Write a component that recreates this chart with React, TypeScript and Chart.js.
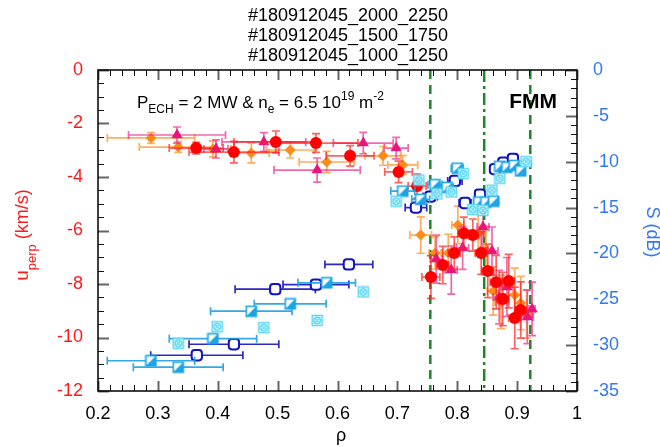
import React, { useEffect, useRef } from 'react';
import { Chart, registerables } from 'chart.js';

Chart.register(...registerables);

const FONT = '"Liberation Sans", Arial, Helvetica, sans-serif';

const titleLines = ['#180912045_2000_2250', '#180912045_1500_1750', '#180912045_1000_1250'];

// Red circles (u_perp, km/s)
const redRho = [0.364, 0.427, 0.497, 0.564, 0.621, 0.702, 0.733, 0.756, 0.776, 0.795, 0.811, 0.826, 0.840, 0.851, 0.865, 0.876, 0.886, 0.896, 0.906];
const redU = [-2.92, -3.07, -2.69, -2.73, -3.21, -3.81, -4.34, -7.74, -7.29, -6.84, -6.10, -6.17, -6.84, -7.51, -7.93, -8.56, -7.89, -9.27, -8.97];
const redRhoErr = [0.045, 0.075, 0.07, 0.07, 0.04, 0.023, 0.015, 0.015, 0.01, 0.01, 0.01, 0.01, 0.01, 0.01, 0.01, 0.01, 0.01, 0.01, 0.01];
const redUErr = [0.22, 0.4, 0.41, 0.35, 0.38, 0.4, 0.45, 0.8, 0.7, 0.6, 0.6, 0.6, 0.8, 1.0, 1.0, 1.0, 1.0, 1.15, 1.05];

// Orange diamonds (u_perp, km/s)
const orangeRho = [0.2885, 0.334, 0.392, 0.456, 0.521, 0.582, 0.676, 0.709, 0.739, 0.763, 0.785, 0.801, 0.835, 0.848, 0.860, 0.873, 0.896, 0.906, 0.916];
const orangeU = [-2.54, -2.88, -2.95, -3.10, -2.99, -3.44, -3.21, -3.55, -6.17, -6.84, -6.84, -5.79, -6.10, -6.73, -8.26, -8.67, -8.41, -8.71, -9.12];
const orangeRhoErr = [0.073, 0.065, 0.03, 0.03, 0.04, 0.046, 0.03, 0.025, 0.018, 0.01, 0.01, 0.01, 0.01, 0.01, 0.01, 0.01, 0.01, 0.01, 0.01];
const orangeUErr = [0.2, 0.2, 0.3, 0.37, 0.3, 0.4, 0.35, 0.35, 0.68, 0.6, 0.7, 0.7, 0.8, 0.9, 0.9, 1.0, 1.0, 1.0, 0.9];

// Magenta triangles (u_perp, km/s)
const pinkRho = [0.332, 0.397, 0.477, 0.566, 0.643, 0.698, 0.765, 0.790, 0.809, 0.843, 0.858, 0.870, 0.883, 0.917, 0.925];
const pinkU = [-2.43, -2.95, -2.69, -3.74, -2.73, -2.92, -7.07, -7.48, -6.65, -5.87, -6.77, -8.49, -8.11, -9.23, -8.93];
const pinkRhoErr = [0.081, 0.02, 0.07, 0.072, 0.05, 0.02, 0.01, 0.01, 0.01, 0.01, 0.01, 0.01, 0.01, 0.01, 0.005];
const pinkUErr = [0.3, 0.34, 0.35, 0.45, 0.4, 0.4, 0.9, 0.9, 0.8, 0.8, 0.9, 1.0, 1.1, 1.0, 1.0];

// Dark blue open circles (S, dB)
const blueRho = [0.365, 0.427, 0.496, 0.564, 0.619, 0.731, 0.755, 0.796, 0.813, 0.838, 0.863, 0.877, 0.893];
const blueS = [-31.1, -29.9, -23.9, -23.4, -21.2, -15.0, -13.8, -12.1, -14.5, -13.6, -10.8, -10.1, -9.7];
const blueRhoErr = [0.077, 0.075, 0.067, 0.055, 0.04, 0.018, 0.012, 0.012, 0.01, 0.008, 0.008, 0.008, 0.008];

// Cyan half-filled squares (S, dB)
const cyanRho = [0.2885, 0.334, 0.392, 0.456, 0.521, 0.582, 0.709, 0.739, 0.763, 0.783, 0.800, 0.836, 0.848, 0.861, 0.871, 0.883, 0.895, 0.906];
const cyanS = [-31.7, -32.4, -29.3, -26.3, -25.5, -23.2, -13.2, -14.1, -12.5, -12.8, -10.7, -14.4, -14.4, -14.3, -10.5, -10.6, -10.4, -11.0];
const cyanRhoErr = [0.073, 0.075, 0.073, 0.068, 0.06, 0.048, 0.02, 0.015, 0.012, 0.01, 0.01, 0.008, 0.008, 0.008, 0.006, 0.006, 0.006, 0.006];

// Light cyan crossed squares (S, dB)
const lightRho = [0.334, 0.399, 0.477, 0.566, 0.643, 0.698, 0.736, 0.766, 0.790, 0.810, 0.826, 0.843, 0.858, 0.871, 0.915];
const lightS = [-29.8, -28.0, -28.1, -27.3, -24.2, -14.3, -12.0, -13.5, -13.3, -11.3, -15.2, -15.3, -13.1, -11.8, -10.0];

const fmmRho = [0.755, 0.845, 0.922];
const fmmDash = [[9, 6], [12, 4, 3, 4], [9, 6]];

function pts(xs: number[], ys: number[]) {
  return xs.map((x, i) => ({ x, y: ys[i] }));
}

function makeHalfSquare(color: string) {
  const s = 13;
  const c = document.createElement('canvas');
  c.width = s; c.height = s;
  const g = c.getContext('2d')!;
  g.fillStyle = '#ffffff';
  g.fillRect(1, 1, s - 2, s - 2);
  g.fillStyle = color;
  g.beginPath();
  g.moveTo(s - 1, 1); g.lineTo(s - 1, s - 1); g.lineTo(1, s - 1); g.closePath();
  g.fill();
  g.strokeStyle = color; g.lineWidth = 1.6;
  g.strokeRect(1.5, 1.5, s - 3, s - 3);
  return c;
}

function makeCrossSquare(color: string) {
  const s = 13;
  const c = document.createElement('canvas');
  c.width = s; c.height = s;
  const g = c.getContext('2d')!;
  g.fillStyle = 'rgba(255,255,255,0.9)';
  g.fillRect(1, 1, s - 2, s - 2);
  g.strokeStyle = color; g.lineWidth = 1.5;
  g.strokeRect(1.5, 1.5, s - 3, s - 3);
  g.beginPath(); g.arc(s / 2, s / 2, 3.3, 0, Math.PI * 2); g.stroke();
  g.lineWidth = 1.1;
  g.beginPath();
  g.moveTo(4, 4); g.lineTo(s - 4, s - 4);
  g.moveTo(s - 4, 4); g.lineTo(4, s - 4);
  g.stroke();
  return c;
}

const errorBarPlugin = {
  id: 'errorBars',
  beforeDatasetDraw(chart: any, args: any) {
    const ds = chart.data.datasets[args.index];
    const eb = ds.errorBars;
    if (!eb) return;
    const ctx = chart.ctx;
    const xs = chart.scales.x;
    const ys = chart.scales[ds.yAxisID];
    const a = chart.chartArea;
    ctx.save();
    ctx.beginPath();
    ctx.rect(a.left, a.top, a.right - a.left, a.bottom - a.top);
    ctx.clip();
    ctx.strokeStyle = eb.color;
    ctx.lineWidth = 1.7;
    const cap = 4;
    ds.data.forEach((p: any, i: number) => {
      const px = xs.getPixelForValue(p.x);
      const py = ys.getPixelForValue(p.y);
      ctx.beginPath();
      if (eb.xErr && eb.xErr[i]) {
        const x0 = xs.getPixelForValue(p.x - eb.xErr[i]);
        const x1 = xs.getPixelForValue(p.x + eb.xErr[i]);
        ctx.moveTo(x0, py); ctx.lineTo(x1, py);
        ctx.moveTo(x0, py - cap); ctx.lineTo(x0, py + cap);
        ctx.moveTo(x1, py - cap); ctx.lineTo(x1, py + cap);
      }
      if (eb.yErr && eb.yErr[i]) {
        const y0 = ys.getPixelForValue(p.y - eb.yErr[i]);
        const y1 = ys.getPixelForValue(p.y + eb.yErr[i]);
        ctx.moveTo(px, y0); ctx.lineTo(px, y1);
        ctx.moveTo(px - cap, y0); ctx.lineTo(px + cap, y0);
        ctx.moveTo(px - cap, y1); ctx.lineTo(px + cap, y1);
      }
      ctx.stroke();
    });
    ctx.restore();
  },
};

const fmmPlugin = {
  id: 'fmmLines',
  beforeDatasetsDraw(chart: any) {
    const ctx = chart.ctx;
    const xs = chart.scales.x;
    const a = chart.chartArea;
    ctx.save();
    ctx.strokeStyle = 'rgb(30,135,40)';
    ctx.lineWidth = 2.5;
    fmmRho.forEach((r, i) => {
      const px = xs.getPixelForValue(r);
      ctx.setLineDash(fmmDash[i]);
      ctx.beginPath();
      ctx.moveTo(px, a.top);
      ctx.lineTo(px, a.bottom);
      ctx.stroke();
    });
    ctx.restore();
  },
};

function drawRich(ctx: CanvasRenderingContext2D, parts: [string, number, number, boolean?][], x: number, y: number) {
  let cx = x;
  for (const [t, size, dy, bold] of parts) {
    ctx.font = `${bold ? 'bold ' : ''}${size}px ${FONT}`;
    ctx.fillText(t, cx, y + dy);
    cx += ctx.measureText(t).width;
  }
  return cx - x;
}

function richWidth(ctx: CanvasRenderingContext2D, parts: [string, number, number, boolean?][]) {
  let w = 0;
  for (const [t, size, , bold] of parts) {
    ctx.font = `${bold ? 'bold ' : ''}${size}px ${FONT}`;
    w += ctx.measureText(t).width;
  }
  return w;
}

const framePlugin = {
  id: 'frame',
  afterDatasetsDraw(chart: any) {
    const ctx = chart.ctx;
    const a = chart.chartArea;
    const xs = chart.scales.x;
    const yl = chart.scales.y;
    const yr = chart.scales.y2;
    ctx.save();
    const tick = (x0: number, y0: number, x1: number, y1: number, major: boolean) => {
      ctx.beginPath();
      ctx.strokeStyle = major ? '#666' : '#111';
      ctx.lineWidth = major ? 2 : 1;
      ctx.moveTo(x0, y0); ctx.lineTo(x1, y1);
      ctx.stroke();
    };
    for (let k = 0; k <= 40; k++) {
      const v = 0.2 + k * 0.02;
      const px = Math.round(xs.getPixelForValue(v)) + 0.5;
      const major = k % 5 === 0;
      const L = major ? 10 : 6;
      tick(px, a.bottom, px, a.bottom - L, major);
      tick(px, a.top, px, a.top + L, major);
    }
    for (let k = 0; k <= 24; k++) {
      const v = -k * 0.5;
      const py = Math.round(yl.getPixelForValue(v)) + 0.5;
      const major = k % 4 === 0;
      tick(a.left, py, a.left + (major ? 11 : 6), py, major);
    }
    for (let k = 0; k <= 35; k++) {
      const v = -k;
      const py = Math.round(yr.getPixelForValue(v)) + 0.5;
      const major = k % 5 === 0;
      tick(a.right, py, a.right - (major ? 11 : 6), py, major);
    }
    ctx.strokeStyle = '#000';
    ctx.lineWidth = 1.5;
    ctx.strokeRect(a.left, a.top, a.right - a.left, a.bottom - a.top);
    ctx.restore();
  },
  afterDraw(chart: any) {
    const ctx = chart.ctx;
    const a = chart.chartArea;
    ctx.save();
    ctx.fillStyle = '#000';
    ctx.textBaseline = 'alphabetic';
    ctx.textAlign = 'center';
    ctx.font = `18px ${FONT}`;
    titleLines.forEach((t, i) => ctx.fillText(t, 348, 21 + i * 20));

    // annotation
    ctx.textAlign = 'left';
    const ann: [string, number, number, boolean?][] = [
      ['P', 17, 0], ['ECH', 12, 5], [' = 2 MW & n', 17, 0], ['e', 12, 5],
      [' = 6.5 10', 17, 0], ['19', 12, -8], [' m', 17, 0], ['-2', 12, -8],
    ];
    drawRich(ctx, ann, 137, 108);
    ctx.font = `bold 21px ${FONT}`;
    ctx.textAlign = 'right';
    ctx.fillText('FMM', 557, 108);

    // x title
    ctx.textAlign = 'center';
    ctx.font = `18px ${FONT}`;
    ctx.fillStyle = '#000';
    ctx.fillText('\u03C1', 341, 441);

    // left title
    ctx.textAlign = 'left';
    ctx.fillStyle = '#ff1a1a';
    const lt: [string, number, number, boolean?][] = [['u', 19, 0], ['perp', 13, 8], [' (km/s)', 18, 0]];
    const lw = richWidth(ctx, lt);
    ctx.save();
    ctx.translate(28, 235);
    ctx.rotate(-Math.PI / 2);
    drawRich(ctx, lt, -lw / 2, 0);
    ctx.restore();

    // right title
    ctx.fillStyle = '#3278f6';
    ctx.font = `18px ${FONT}`;
    ctx.save();
    ctx.translate(647, 232);
    ctx.rotate(Math.PI / 2);
    ctx.textAlign = 'center';
    ctx.fillText('S (dB)', 0, 0);
    ctx.restore();
    ctx.restore();
  },
};

export default function App() {
  const ref = useRef<HTMLCanvasElement>(null);
  useEffect(() => {
    document.body.style.margin = '0';
    const canvas = ref.current!;
    const halfSq = makeHalfSquare('#1ca6e6');
    const crossSq = makeCrossSquare('#5ad6f4');
    const chart = new Chart(canvas, {
      type: 'scatter',
      data: {
        datasets: [
          {
            label: 'S crossed',
            data: pts(lightRho, lightS),
            yAxisID: 'y2',
            pointStyle: crossSq as any,
            pointRadius: 6,
            showLine: false,
          } as any,
          {
            label: 'S half',
            data: pts(cyanRho, cyanS),
            yAxisID: 'y2',
            pointStyle: halfSq as any,
            pointRadius: 6,
            showLine: false,
            errorBars: { color: 'rgba(30,160,225,0.9)', xErr: cyanRhoErr },
          } as any,
          {
            label: 'S ring',
            data: pts(blueRho, blueS),
            yAxisID: 'y2',
            pointStyle: 'rectRounded',
            pointRadius: 6,
            pointBackgroundColor: '#ffffff',
            pointBorderColor: '#1010c8',
            pointBorderWidth: 2,
            showLine: false,
            errorBars: { color: 'rgba(20,20,190,0.9)', xErr: blueRhoErr },
          } as any,
          {
            label: 'u red',
            data: pts(redRho, redU),
            yAxisID: 'y',
            pointStyle: 'circle',
            pointRadius: 6,
            pointBackgroundColor: '#ff0000',
            pointBorderColor: '#ff0000',
            pointBorderWidth: 0,
            showLine: false,
            errorBars: { color: 'rgba(255,30,30,0.7)', xErr: redRhoErr, yErr: redUErr },
          } as any,
          {
            label: 'u pink',
            data: pts(pinkRho, pinkU),
            yAxisID: 'y',
            pointStyle: 'triangle',
            pointRadius: 6.5,
            pointBackgroundColor: '#e8157c',
            pointBorderColor: '#e8157c',
            pointBorderWidth: 0,
            showLine: false,
            errorBars: { color: 'rgba(235,40,140,0.7)', xErr: pinkRhoErr, yErr: pinkUErr },
          } as any,
          {
            label: 'u orange',
            data: pts(orangeRho, orangeU),
            yAxisID: 'y',
            pointStyle: 'rectRot',
            pointRadius: 5.5,
            pointBackgroundColor: '#ff8c1a',
            pointBorderColor: '#ff8c1a',
            pointBorderWidth: 0,
            showLine: false,
            errorBars: { color: 'rgba(255,145,40,0.75)', xErr: orangeRhoErr, yErr: orangeUErr },
          } as any,
        ],
      },
      options: {
        animation: false,
        responsive: false,
        devicePixelRatio: 1,
        events: [],
        layout: { padding: { top: 70, left: 0, right: 0, bottom: 0 } },
        plugins: { legend: { display: false }, tooltip: { enabled: false }, title: { display: false } },
        scales: {
          x: {
            type: 'linear',
            min: 0.2,
            max: 1,
            grid: { display: false, drawTicks: false },
            border: { display: false },
            ticks: {
              stepSize: 0.1,
              padding: 12,
              color: '#000',
              font: { family: FONT, size: 18 },
              callback: (v: any) => String(Number(Number(v).toFixed(1))),
            },
            afterFit: (s: any) => { s.height = 56; },
          },
          y: {
            type: 'linear',
            position: 'left',
            min: -12,
            max: 0,
            grid: { display: false, drawTicks: false },
            border: { display: false },
            ticks: {
              stepSize: 2,
              padding: 15,
              color: '#ff1a1a',
              font: { family: FONT, size: 18 },
            },
            afterFit: (s: any) => { s.width = 98; },
          },
          y2: {
            type: 'linear',
            position: 'right',
            min: -35,
            max: 0,
            grid: { display: false, drawTicks: false },
            border: { display: false },
            ticks: {
              stepSize: 5,
              padding: 16,
              color: '#3278f6',
              font: { family: FONT, size: 18 },
            },
            afterFit: (s: any) => { s.width = 83; },
          },
        },
      } as any,
      plugins: [fmmPlugin, errorBarPlugin, framePlugin],
    });
    return () => chart.destroy();
  }, []);
  return (
    <div style={{ position: 'relative', width: 660, height: 447, background: '#fff' }}>
      <canvas ref={ref} width={660} height={447} style={{ display: 'block', width: 660, height: 447 }} />
    </div>
  );
}
